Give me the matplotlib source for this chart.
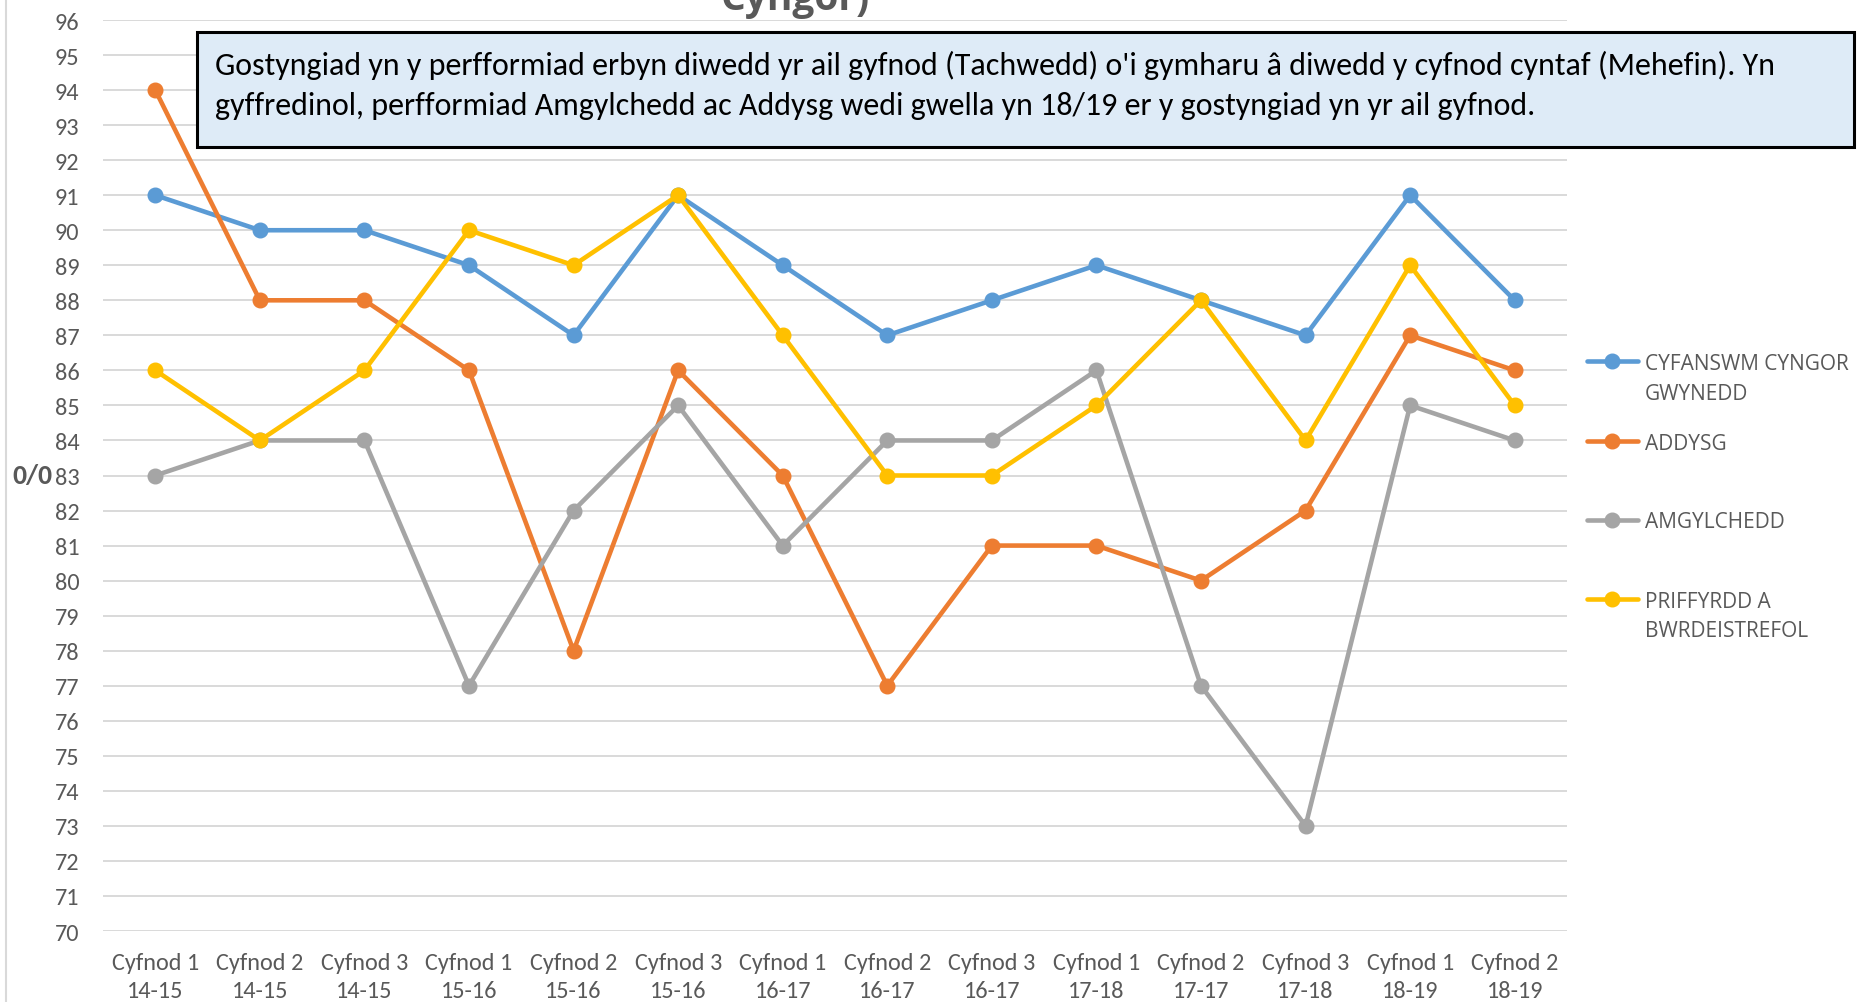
import matplotlib
matplotlib.use('Agg')
import matplotlib.pyplot as plt
from matplotlib import font_manager
from matplotlib.lines import Line2D
from matplotlib.patches import Rectangle

categories = ['Cyfnod 1\n14-15', 'Cyfnod 2\n14-15', 'Cyfnod 3\n14-15',
              'Cyfnod 1\n15-16', 'Cyfnod 2\n15-16', 'Cyfnod 3\n15-16',
              'Cyfnod 1\n16-17', 'Cyfnod 2\n16-17', 'Cyfnod 3\n16-17',
              'Cyfnod 1\n17-18', 'Cyfnod 2\n17-17', 'Cyfnod 3\n17-18',
              'Cyfnod 1\n18-19', 'Cyfnod 2\n18-19']
cyfanswm = [91, 90, 90, 89, 87, 91, 89, 87, 88, 89, 88, 87, 91, 88]
addysg = [94, 88, 88, 86, 78, 86, 83, 77, 81, 81, 80, 82, 87, 86]
amgylchedd = [83, 84, 84, 77, 82, 85, 81, 84, 84, 86, 77, 73, 85, 84]
priffyrdd = [86, 84, 86, 90, 89, 91, 87, 83, 83, 85, 88, 84, 89, 85]

series_names = ['CYFANSWM CYNGOR\nGWYNEDD', 'ADDYSG', 'AMGYLCHEDD',
                'PRIFFYRDD A\nBWRDEISTREFOL']
colors = ['#5B9BD5', '#ED7D31', '#A5A5A5', '#FFC000']
note_lines = ["Gostyngiad yn y perfformiad erbyn diwedd yr ail gyfnod (Tachwedd) o'i gymharu â diwedd y cyfnod cyntaf (Mehefin). Yn",
              "gyffredinol, perfformiad Amgylchedd ac Addysg wedi gwella yn 18/19 er y gostyngiad yn yr ail gyfnod."]

names = {f.name for f in font_manager.fontManager.ttflist}
def pick(*cands):
    for c in cands:
        if c in names:
            return c
    return 'DejaVu Sans'

narrow = pick('Carlito', 'Liberation Sans Narrow', 'Liberation Sans')
legfont = pick('Open Sans', 'Noto Sans', 'DejaVu Sans')

W, H = 1857, 1003
fig = plt.figure(figsize=(W / 100, H / 100), dpi=100)
ax = fig.add_axes([103 / W, 1 - 932 / H, 1464 / W, 911 / H])

x = list(range(len(categories)))
data = [cyfanswm, addysg, amgylchedd, priffyrdd]
for vals, c in zip(data, colors):
    ax.plot(x, vals, color=c, lw=3.3, marker='o', ms=10.5,
            solid_joinstyle='round', solid_capstyle='round', clip_on=False, zorder=3)

ax.set_xlim(-0.5, len(categories) - 0.5)
ax.set_ylim(70, 96)
ax.set_yticks(range(70, 97))
ax.set_xticks(x)
ax.set_xticklabels(categories, fontfamily=narrow, fontsize=17.5,
                   color='#595959', linespacing=1.45)
for lab in ax.get_yticklabels():
    lab.set_fontfamily(narrow)
    lab.set_fontsize(17.5)
    lab.set_color('#595959')
ax.tick_params(axis='x', length=0, pad=15)
ax.tick_params(axis='y', length=0, pad=17)
ax.grid(axis='y', color='#d9d9d9', lw=1.4)
ax.set_axisbelow(True)
for s in ax.spines.values():
    s.set_visible(False)

ax.set_ylabel('0/0', rotation=0, fontfamily=narrow, fontsize=20,
              fontweight='bold', color='#595959', ha='center', va='center')
ax.yaxis.set_label_coords(-0.0485, 0.5)

# title, mostly cut off at the top
fig.text(795 / W, 1 - 10 / H, 'Cyngor)', ha='center', va='baseline',
         fontsize=28, fontweight='bold', color='#595959', family=legfont)

# left border of the chart area
fig.add_artist(Line2D([6 / W, 6 / W], [0, 1], color='#d9d9d9', lw=1.5))

# note box
fig.add_artist(Rectangle((197 / W, 1 - 148 / H), (1854 - 197) / W, 115 / H,
                         transform=fig.transFigure, facecolor='#DEEBF7',
                         edgecolor='black', lw=2.2, zorder=5))
t1 = fig.text(215 / W, 1 - 63 / H, note_lines[0], ha='left', va='center_baseline',
              fontsize=20, family=narrow, color='black', zorder=6)
t2 = fig.text(215 / W, 1 - 103 / H, note_lines[1], ha='left', va='center_baseline',
              fontsize=20, family=narrow, color='black', zorder=6)
r = fig.canvas.get_renderer()
wpx = t1.get_window_extent(r).width
fs = 20 * 1561 / wpx
t1.set_fontsize(fs)
t2.set_fontsize(fs)

# legend (hand drawn so the marker sits on the first text line, as in Excel)
leg_y = [362, 442, 521, 600]
for name, c, yy in zip(series_names, colors, leg_y):
    yf = 1 - yy / H
    fig.add_artist(Line2D([1587 / W, 1638 / W], [yf, yf], color=c, lw=3.3,
                          solid_capstyle='round'))
    fig.add_artist(Line2D([1612 / W], [yf], color=c, marker='o', ms=10.5))
    for i, part in enumerate(name.split('\n')):
        fig.text(1645 / W, 1 - (yy + 7.5 + 30 * i) / H, part, ha='left',
                 va='baseline', fontsize=15, family=legfont, color='#595959')

fig.savefig('out.png', dpi=100)
